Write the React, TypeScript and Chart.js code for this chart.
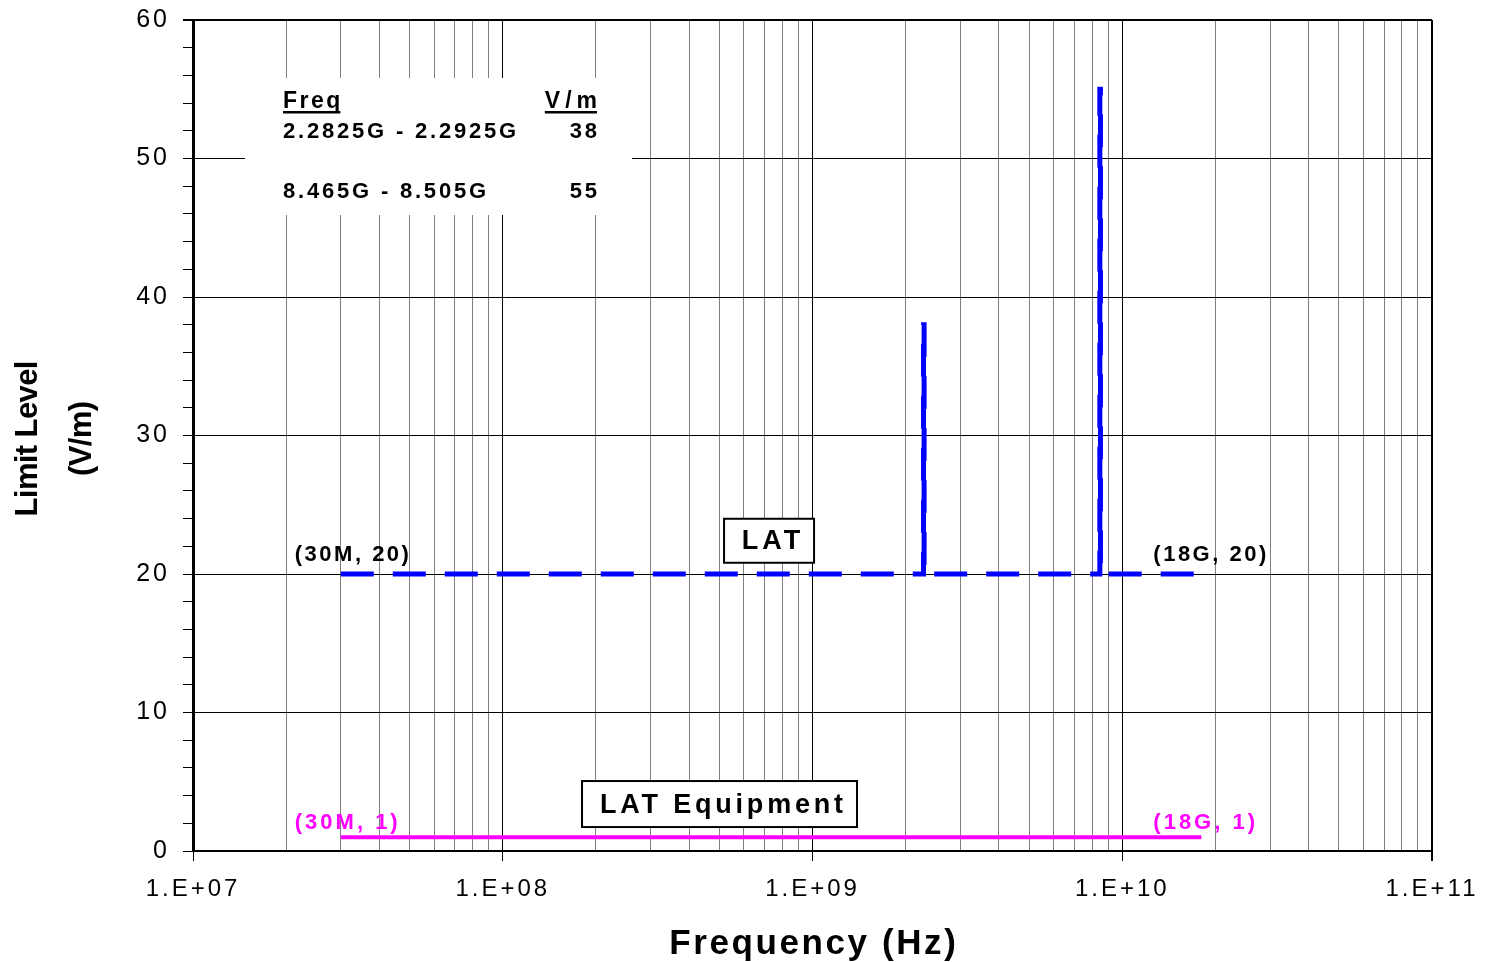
import React, { useEffect, useRef } from "react";
import { Chart, registerables } from "chart.js";

Chart.register(...registerables);

// ---- data ----
const latFreqHz = [3e7, 2.2825e9, 2.2825e9, 2.2925e9, 2.2925e9, 8.465e9, 8.465e9, 8.505e9, 8.505e9, 1.8e10];
const latLimitVm = [20, 20, 38, 38, 20, 20, 55, 55, 20, 20];
const equipFreqHz = [3e7, 1.8e10];
const equipLimitVm = [1, 1];

const xDecades = [1e7, 1e8, 1e9, 1e10, 1e11];
const xDecadeLabels = ["1.E+07", "1.E+08", "1.E+09", "1.E+10", "1.E+11"];
const yTickValues = [0, 2, 4, 6, 8, 10, 12, 14, 16, 18, 20, 22, 24, 26, 28, 30, 32, 34, 36, 38, 40, 42, 44, 46, 48, 50, 52, 54, 56, 58, 60];
const yLabelStep = 10;

const bandRanges = ["2.2825G - 2.2925G", "8.465G - 8.505G"];
const bandLevels = ["38", "55"];

const FONT = "Arial, 'Liberation Sans', sans-serif";

const isDecade = (v: number) => {
  const l = Math.log10(v);
  return Math.abs(l - Math.round(l)) < 1e-9;
};

function drawText(
  ctx: CanvasRenderingContext2D,
  s: string,
  x: number,
  y: number,
  o: { size: number; bold?: boolean; color?: string; align?: string; spacing?: number; baseline?: CanvasTextBaseline }
) {
  const spacing = o.spacing ?? 0;
  ctx.save();
  ctx.font = `${o.bold ? "bold " : ""}${o.size}px ${FONT}`;
  (ctx as any).letterSpacing = spacing + "px";
  ctx.fillStyle = o.color ?? "#000";
  ctx.textBaseline = o.baseline ?? "middle";
  ctx.textAlign = "left";
  const w = ctx.measureText(s).width - spacing;
  let left = x;
  if (o.align === "center") left = x - w / 2;
  else if (o.align === "right") left = x - w;
  ctx.fillText(s, left, y);
  ctx.restore();
  return { left, w };
}

const decorPlugin = {
  id: "decor",
  beforeDraw(chart: any) {
    (chart.ctx as any).letterSpacing = "3px";
  },
  beforeDatasetsDraw(chart: any) {
    const ctx: CanvasRenderingContext2D = chart.ctx;
    const a = chart.chartArea;
    // table box
    const bx = a.left + 52, by = a.top + 58, bw = 387, bh = 137;
    ctx.save();
    ctx.fillStyle = "#fff";
    ctx.fillRect(bx, by, bw, bh);
    ctx.restore();
    const colL = bx + 38;
    const colR = bx + 352;
    const h1 = drawText(ctx, "Freq", colL, by + 30, { size: 23, bold: true, spacing: 2.5, baseline: "alphabetic" });
    const h2 = drawText(ctx, "V/m", colR, by + 30, { size: 23, bold: true, spacing: 5, align: "right", baseline: "alphabetic" });
    ctx.save();
    ctx.fillStyle = "#000";
    ctx.fillRect(h1.left, by + 33, h1.w, 2.5);
    ctx.fillRect(h2.left, by + 33, h2.w, 2.5);
    ctx.restore();
    bandRanges.forEach((r, i) => {
      const yy = by + 60 + i * 60;
      drawText(ctx, r, colL, yy, { size: 22, bold: true, spacing: 2.8, baseline: "alphabetic" });
      drawText(ctx, bandLevels[i], colR, yy, { size: 22, bold: true, spacing: 2.8, align: "right", baseline: "alphabetic" });
    });
  },
  afterDatasetsDraw(chart: any) {
    const ctx: CanvasRenderingContext2D = chart.ctx;
    const xs = chart.scales.x, ys = chart.scales.y;
    const px = (v: number) => xs.getPixelForValue(v);
    const py = (v: number) => ys.getPixelForValue(v);
    const n = latFreqHz.length - 1;
    // point labels
    drawText(ctx, "(30M, 20)", px(latFreqHz[0]) - 46, py(latLimitVm[0]) - 19, { size: 22, bold: true, spacing: 2.5 });
    drawText(ctx, "(18G, 20)", px(latFreqHz[n]) - 48, py(latLimitVm[n]) - 19, { size: 22, bold: true, spacing: 2.5 });
    drawText(ctx, "(30M, 1)", px(equipFreqHz[0]) - 46, py(equipLimitVm[0]) - 14, { size: 22, bold: true, spacing: 3, color: "#FF00FF" });
    drawText(ctx, "(18G, 1)", px(equipFreqHz[1]) - 48, py(equipLimitVm[1]) - 14, { size: 22, bold: true, spacing: 3, color: "#FF00FF" });
    // boxed series names
    const box = (s: string, cx: number, cy: number, w: number, h: number, sp: number) => {
      ctx.save();
      ctx.fillStyle = "#fff";
      ctx.fillRect(cx - w / 2, cy - h / 2, w, h);
      ctx.strokeStyle = "#000";
      ctx.lineWidth = 2;
      ctx.strokeRect(cx - w / 2, cy - h / 2, w, h);
      ctx.restore();
      drawText(ctx, s, cx + 2, cy + 1, { size: 27, bold: true, spacing: sp, align: "center" });
    };
    box("LAT", px(7.24e8), py(22.4), 90, 44, 4);
    box("LAT Equipment", px(5.01e8), py(3.39), 275, 46, 3.8);
  },
  afterDraw(chart: any) {
    const ctx: CanvasRenderingContext2D = chart.ctx;
    const a = chart.chartArea;
    drawText(ctx, "Frequency (Hz)", (a.left + a.right) / 2, 954, { size: 35, bold: true, spacing: 2.6, align: "center", baseline: "alphabetic" });
    const cy = (a.top + a.bottom) / 2 + 3;
    const rot = (s: string, x: number) => {
      ctx.save();
      ctx.translate(x, cy);
      ctx.rotate(-Math.PI / 2);
      drawText(ctx, s, 0, 0, { size: 31, bold: true, spacing: -0.6, align: "center" });
      ctx.restore();
    };
    rot("Limit Level", 28);
    rot("(V/m)", 82);
  },
};

export default function App() {
  const ref = useRef<HTMLCanvasElement>(null);
  useEffect(() => {
    if (!ref.current) return;
    const xTicks: number[] = [];
    xDecades.forEach((d, i) => {
      xTicks.push(d);
      if (i < xDecades.length - 1) for (let m = 2; m <= 9; m++) xTicks.push(m * d);
    });
    const chart = new Chart(ref.current, {
      type: "scatter",
      data: {
        datasets: [
          {
            label: "LAT",
            data: latFreqHz.map((f, i) => ({ x: f, y: latLimitVm[i] })),
            showLine: true,
            borderColor: "#0000FF",
            backgroundColor: "#0000FF",
            borderWidth: 5,
            borderDash: [33, 19],
            borderCapStyle: "butt",
            borderJoinStyle: "miter",
            pointRadius: 0,
            tension: 0,
          },
          {
            label: "LAT Equipment",
            data: equipFreqHz.map((f, i) => ({ x: f, y: equipLimitVm[i] })),
            showLine: true,
            borderColor: "#FF00FF",
            backgroundColor: "#FF00FF",
            borderWidth: 4,
            pointRadius: 0,
            tension: 0,
          },
        ],
      },
      options: {
        responsive: false,
        animation: false,
        devicePixelRatio: 1,
        layout: { padding: { left: 0, top: 20, right: 56, bottom: 0 } },
        plugins: { legend: { display: false }, tooltip: { enabled: false } },
        events: [],
        scales: {
          x: {
            type: "logarithmic",
            position: "bottom",
            min: 1e7,
            max: 1e11,
            afterBuildTicks: (s: any) => {
              s.ticks = xTicks.map((v) => ({ value: v, major: isDecade(v) }));
            },
            afterFit: (s: any) => {
              s.height = 111;
              s.paddingLeft = 0;
              s.paddingRight = 0;
            },
            ticks: {
              autoSkip: false,
              maxRotation: 0,
              minRotation: 0,
              padding: 14,
              color: "#000",
              font: { size: 24, family: FONT },
              callback: (v: any) => {
                const i = xDecades.findIndex((d) => Math.abs(d - Number(v)) / d < 1e-9);
                return i >= 0 ? xDecadeLabels[i] : "";
              },
            },
            grid: {
              color: (c: any) => (c.tick && isDecade(c.tick.value) ? "#000" : "#808080"),
              lineWidth: (c: any) => (c.tick && c.tick.value >= 1e11 * 0.999 ? 2 : 1),
              tickColor: (c: any) => (c.tick && isDecade(c.tick.value) ? "#000" : "rgba(0,0,0,0)"),
              tickLength: 10,
              drawTicks: true,
            },
            border: { color: "#000", width: 2 },
          },
          y: {
            type: "linear",
            min: 0,
            max: 60,
            afterBuildTicks: (s: any) => {
              s.ticks = yTickValues.map((v) => ({ value: v }));
            },
            afterFit: (s: any) => {
              s.width = 193;
              s.paddingTop = 0;
              s.paddingBottom = 0;
            },
            ticks: {
              autoSkip: false,
              padding: 13,
              color: "#000",
              font: { size: 25, family: FONT },
              callback: (v: any) => (Number(v) % yLabelStep === 0 ? String(v) : ""),
            },
            grid: {
              color: (c: any) => (c.tick && c.tick.value % yLabelStep === 0 ? "#000" : "rgba(0,0,0,0)"),
              lineWidth: (c: any) => (c.tick && c.tick.value === 60 ? 2 : 1),
              tickColor: "#000",
              tickLength: 10,
              drawTicks: true,
            },
            border: { color: "#000", width: 3 },
          },
        },
      } as any,
      plugins: [decorPlugin],
    });
    return () => chart.destroy();
  }, []);
  return (
    <div style={{ position: "absolute", left: 0, top: 0, width: 1488, height: 962 }}>
      <canvas ref={ref} width={1488} height={962} style={{ width: 1488, height: 962, display: "block" }} />
    </div>
  );
}
